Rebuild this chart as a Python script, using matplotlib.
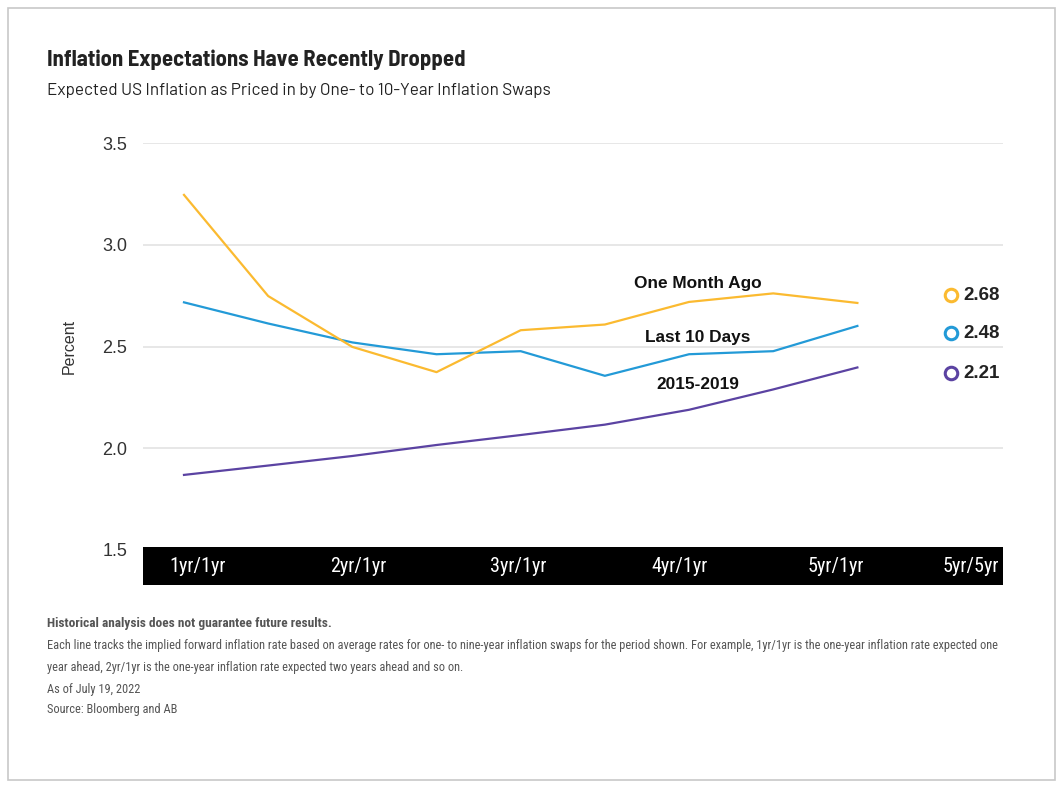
import numpy as np
import matplotlib
matplotlib.use("Agg")
from matplotlib import pyplot as plt
from matplotlib.patches import Rectangle

# values (nine one-year forward points)
one_month_ago = [3.245, 2.748, 2.498, 2.374, 2.58, 2.608, 2.719, 2.761, 2.714]
last_10_days = [2.717, 2.613, 2.52, 2.462, 2.477, 2.356, 2.462, 2.477, 2.601]
hist_2015_2019 = [1.869, 1.915, 1.962, 2.016, 2.065, 2.116, 2.189, 2.289, 2.397]
x_idx = np.arange(len(one_month_ago))

band_labels = ["1yr/1yr", "2yr/1yr", "3yr/1yr", "4yr/1yr", "5yr/1yr", "5yr/5yr"]
band_pos = [0.064, 0.25, 0.436, 0.624, 0.806, 0.962]
end_values = ["2.68", "2.48", "2.21"]
series_names = ["One Month Ago", "Last 10 Days", "2015-2019"]

YELLOW = "#FBBA30"
BLUE = "#239AD7"
PURPLE = "#5B43A2"
colors = [YELLOW, BLUE, PURPLE]

NARROW = ["Roboto Condensed", "DejaVu Sans"]
SANS = ["Liberation Sans", "DejaVu Sans"]

W, H = 1063, 788
fig = plt.figure(figsize=(W / 100, H / 100), dpi=100)
fig.patch.set_facecolor("white")

# outer frame
fig.patches.append(Rectangle((8 / W, 1 - 780 / H), (1055 - 8) / W, (780 - 8) / H,
                             transform=fig.transFigure, fill=False,
                             edgecolor="#c8c8c8", linewidth=1.2))

fig.text(47 / W, 1 - 60 / H, "Inflation Expectations Have Recently Dropped",
         fontsize=16.3, fontweight="bold", color="#222222",
         family=["Barlow Semi Condensed", "DejaVu Sans"], va="center", ha="left")
fig.text(47 / W, 1 - 91 / H, "Expected US Inflation as Priced in by One- to 10-Year Inflation Swaps",
         fontsize=12.3, color="#222222", family=["Barlow", "DejaVu Sans"],
         va="center", ha="left")

ax_l, ax_r, ax_t, ax_b = 143, 1003, 143, 550
ax = fig.add_axes([ax_l / W, 1 - ax_b / H, (ax_r - ax_l) / W, (ax_b - ax_t) / H])
ax.set_xlim(-0.487, 9.73)
ax.set_ylim(1.5, 3.5)
for s in ax.spines.values():
    s.set_visible(False)
ax.set_yticks([1.5, 2.0, 2.5, 3.0, 3.5])
ax.set_yticklabels(["1.5", "2.0", "2.5", "3.0", "3.5"])
ax.tick_params(axis="y", length=0, pad=11.5, labelsize=13, labelcolor="#333333")
for lab in ax.get_yticklabels():
    lab.set_family(SANS)
ax.set_xticks([])
ax.grid(axis="y", color="#e3e3e3", linewidth=1.2)
ax.set_axisbelow(True)

ax.set_ylabel("Percent", fontsize=11.5, color="#333333", family=SANS, labelpad=18)

ax.plot(x_idx, hist_2015_2019, color=PURPLE, linewidth=1.6)
ax.plot(x_idx, last_10_days, color=BLUE, linewidth=1.6)
ax.plot(x_idx, one_month_ago, color=YELLOW, linewidth=1.6)

# series labels on the lines
lab_x = 6.1
for name, ly in zip(series_names, [2.81, 2.546, 2.315]):
    ax.text(lab_x, ly, name, fontsize=12.4, fontweight="bold", color="#111111",
            family=SANS, ha="center", va="center")

# end-value legend
for val, c, ly in zip(end_values, colors, [2.751, 2.565, 2.369]):
    ax.plot([9.11], [ly], marker="o", markersize=9, markerfacecolor="white",
            markeredgecolor=c, markeredgewidth=2.2, clip_on=False)
    ax.text(9.26, ly, val, fontsize=13.5, fontweight="bold", color="#222222",
            family=SANS, ha="left", va="center")

# black category band
band_top = (ax_b - 547) / (ax_b - ax_t)
band_bot = (ax_b - 585) / (ax_b - ax_t)
ax.add_patch(Rectangle((0, band_bot), 1, band_top - band_bot, transform=ax.transAxes,
                       facecolor="black", edgecolor="none", clip_on=False, zorder=5))
for lab, px in zip(band_labels, band_pos):
    ax.text(px, (band_top + band_bot) / 2, lab, transform=ax.transAxes, color="white",
            fontsize=14.5, family=NARROW, ha="center", va="center", zorder=6)

# footnotes
notes = [
    ("Historical analysis does not guarantee future results.", "bold", 624, 9.6),
    ("Each line tracks the implied forward inflation rate based on average rates for one- to nine-year "
     "inflation swaps for the period shown. For example, 1yr/1yr is the one-year inflation rate expected one", "normal", 646, 8.95),
    ("year ahead, 2yr/1yr is the one-year inflation rate expected two years ahead and so on.", "normal", 667, 8.95),
    ("As of July 19, 2022", "normal", 689, 8.95),
    ("Source: Bloomberg and AB", "normal", 710, 8.95),
]
for txt, wt, py, fs in notes:
    fig.text(47 / W, 1 - py / H, txt, fontsize=fs, fontweight=wt, color="#555555",
             family=NARROW, ha="left", va="center")

fig.savefig("out.png", dpi=100, facecolor="white")
